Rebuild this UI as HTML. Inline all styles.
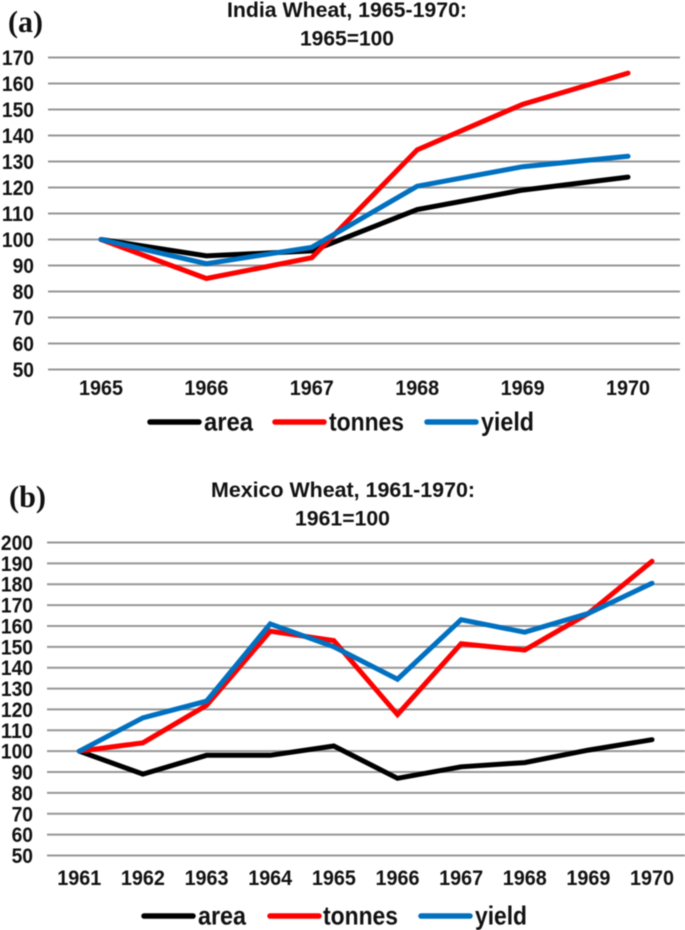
<!DOCTYPE html>
<html lang="en">
<head>
<meta charset="utf-8">
<title>India and Mexico Wheat Indices</title>
<style>
html,body{margin:0;padding:0;background:#fff;width:685px;height:930px;overflow:hidden}
svg{display:block;filter:blur(0.45px)}
text{font-family:"Liberation Sans",Arial,sans-serif;font-weight:700;fill:#111}
.serif{font-family:"Liberation Serif","Times New Roman",serif;font-size:31px}
</style>
</head>
<body>
<svg id="figure" xmlns="http://www.w3.org/2000/svg" width="685" height="930" viewBox="0 0 685 930">
  <text class="serif" x="8" y="32" textLength="35" lengthAdjust="spacingAndGlyphs">(a)</text>
  <text class="serif" x="9" y="507" textLength="37" lengthAdjust="spacingAndGlyphs">(b)</text>
  <text x="227" y="17" font-size="21" textLength="240" lengthAdjust="spacingAndGlyphs">India Wheat, 1965-1970:</text>
  <text x="300" y="45.5" font-size="21" textLength="94" lengthAdjust="spacingAndGlyphs">1965=100</text>
  <text x="211" y="497" font-size="21" textLength="264" lengthAdjust="spacingAndGlyphs">Mexico Wheat, 1961-1970:</text>
  <text x="295" y="525.5" font-size="21" textLength="95" lengthAdjust="spacingAndGlyphs">1961=100</text>
  <g id="chart-a"></g>
  <g id="chart-b"></g>
</svg>
<script>
const yearsA = ['1965','1966','1967','1968','1969','1970'];
const areaA = [100, 93.7, 95.6, 111.5, 119, 124];
const tonnesA = [100, 85, 93, 134.5, 152, 164];
const yieldA = [100, 90.7, 97, 120.5, 128, 132];
const ticksA = [50,60,70,80,90,100,110,120,130,140,150,160,170];

const yearsB = ['1961','1962','1963','1964','1965','1966','1967','1968','1969','1970'];
const areaB = [100, 89, 98, 98, 102.5, 87, 92.5, 94.5, 100.5, 105.5];
const tonnesB = [100, 104, 122, 157.5, 153, 117.5, 151.5, 148.5, 166, 191];
const yieldB = [100, 116, 124, 161, 150, 134.5, 163, 157, 166, 180.5];
const ticksB = [50,60,70,80,90,100,110,120,130,140,150,160,170,180,190,200];

const legendNames = ['area','tonnes','yield'];
const seriesColors = ['#000000','#ff0000','#0070c0'];
const NS = 'http://www.w3.org/2000/svg';

function make(parent, tag, attrs, content) {
  const el = document.createElementNS(NS, tag);
  for (const k in attrs) el.setAttribute(k, attrs[k]);
  if (content !== undefined) el.textContent = content;
  parent.appendChild(el);
  return el;
}

function drawChart(cfg) {
  const root = document.getElementById(cfg.id);
  const minV = cfg.ticks[0], maxV = cfg.ticks[cfg.ticks.length - 1];
  const yScale = v => cfg.yBottom - (v - minV) / (maxV - minV) * (cfg.yBottom - cfg.yTop);
  const xScale = i => cfg.xFirst + i * (cfg.xLast - cfg.xFirst) / (cfg.years.length - 1);

  cfg.ticks.forEach(t => {
    const line = make(root, 'line', {x1: cfg.gridL, x2: cfg.gridR, y1: yScale(t), y2: yScale(t), stroke: '#979797', 'stroke-width': 2});
    
    
    const label = make(root, 'text', {x: cfg.yLabelX, y: yScale(t) + 7.5, 'font-size': 21, 'text-anchor': 'end', textLength: String(t).length * 10.7, lengthAdjust: 'spacingAndGlyphs'}, String(t));
    
    
  });

  cfg.years.forEach((yr, i) => {
    const label = make(root, 'text', {x: xScale(i), y: cfg.xLabelY, 'font-size': 21, 'text-anchor': 'middle', textLength: 44, lengthAdjust: 'spacingAndGlyphs'}, yr);
    
    
  });

  cfg.series.forEach((vals, s) => {
    const pts = vals.map((v, i) => xScale(i).toFixed(1) + ',' + yScale(v).toFixed(1)).join(' ');
    const line = make(root, 'polyline', {points: pts, fill: 'none', stroke: seriesColors[s], 'stroke-width': 5, 'stroke-linejoin': 'miter', 'stroke-linecap': 'round'});
    
    
  });

  legendNames.forEach((name, s) => {
    const p = cfg.legend[s];
    const swatch = make(root, 'line', {x1: p[0], x2: p[0] + 49, y1: cfg.legendY, y2: cfg.legendY, stroke: seriesColors[s], 'stroke-width': 5.5, 'stroke-linecap': 'round'});
    
    
    const label = make(root, 'text', {x: p[1], y: cfg.legendY + 8.5, 'font-size': 26, textLength: p[2], lengthAdjust: 'spacingAndGlyphs'}, name);
    
    
  });
}

drawChart({
  id: 'chart-a', years: yearsA, ticks: ticksA, series: [areaA, tonnesA, yieldA],
  yTop: 57.5, yBottom: 369.5, xFirst: 101, xLast: 628, gridL: 48, gridR: 680,
  yLabelX: 34, xLabelY: 395, legendY: 422,
  legend: [[150, 204, 49], [275, 329, 75], [427, 481, 53]]
});
drawChart({
  id: 'chart-b', years: yearsB, ticks: ticksB, series: [areaB, tonnesB, yieldB],
  yTop: 542.5, yBottom: 855.5, xFirst: 79.3, xLast: 652, gridL: 47, gridR: 685,
  yLabelX: 33, xLabelY: 885, legendY: 916,
  legend: [[144, 198, 48], [270, 323, 75], [421, 475, 52]]
});
</script>
</body>
</html>
